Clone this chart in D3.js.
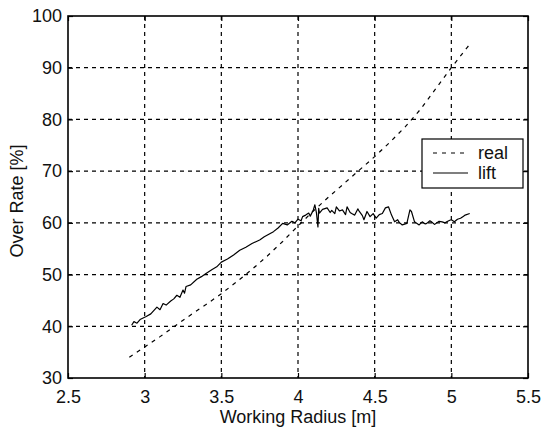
<!DOCTYPE html>
<html>
<head>
<meta charset="utf-8" />
<script src="https://cdn.jsdelivr.net/npm/d3@7"></script>
<style>
  body { margin: 0; background: #fff; }
  text { font-family: Arial, "Liberation Sans", sans-serif; fill: #111; }
  .tick line { stroke: #000; stroke-width: 1.2; }
  .grid line { stroke: #000; stroke-width: 1.2; stroke-dasharray: 4,4; }
</style>
</head>
<body>
<script>
var w = 542, h = 430;
var plotLeft = 68, plotRight = 528, plotTop = 16, plotBottom = 378;

var xTicks = [2.5, 3, 3.5, 4, 4.5, 5, 5.5];
var yTicks = [30, 40, 50, 60, 70, 80, 90, 100];

// "real" series (dashed)
var realX = [2.90, 3.0, 3.1, 3.2, 3.3, 3.4, 3.5, 3.6, 3.7, 3.8, 3.9, 4.0, 4.1, 4.2, 4.3, 4.4, 4.5, 4.6, 4.7, 4.8, 4.9, 5.0, 5.1, 5.12];
var realY = [34.0, 36.0, 38.0, 40.1, 42.2, 44.2, 46.3, 48.6, 51.0, 53.6, 56.4, 59.4, 62.3, 65.0, 67.6, 70.2, 72.8, 75.6, 78.6, 82.0, 86.0, 90.0, 93.8, 94.5];

// "lift" series (solid, noisy)
var liftX = [2.915, 2.93, 2.95, 2.97, 3.01, 3.04, 3.08, 3.10, 3.12, 3.14, 3.17, 3.19, 3.21, 3.23, 3.25, 3.26, 3.27, 3.30, 3.34, 3.37, 3.40, 3.44, 3.47, 3.50,
  3.54, 3.58, 3.62, 3.66, 3.70, 3.75, 3.78, 3.81, 3.84, 3.87, 3.90, 3.93, 3.96, 3.98, 4.00, 4.02, 4.03, 4.05, 4.07, 4.08, 4.10, 4.11, 4.12, 4.13, 4.135, 4.14,
  4.16, 4.19, 4.21, 4.22, 4.24, 4.25, 4.27, 4.29, 4.31, 4.32, 4.34, 4.35, 4.37, 4.39, 4.40, 4.42, 4.43, 4.45, 4.47, 4.49, 4.51, 4.53, 4.55, 4.57, 4.59,
  4.61, 4.63, 4.65, 4.66, 4.68, 4.71, 4.73, 4.74, 4.76, 4.79, 4.81, 4.83, 4.84, 4.86, 4.87, 4.89, 4.90, 4.92, 4.94, 4.96, 4.97, 4.99, 5.00, 5.02, 5.04, 5.06, 5.08, 5.09, 5.12];
var liftY = [40.2, 40.9, 40.6, 41.3, 41.9, 42.4, 43.7, 43.2, 44.4, 44.1, 44.9, 45.3, 46.0, 45.6, 47.0, 46.4, 47.7, 48.0, 49.1, 49.6, 50.2, 51.0, 51.5, 52.4,
  53.0, 53.8, 54.7, 55.3, 56.0, 56.7, 57.3, 57.8, 58.3, 59.0, 59.9, 59.6, 60.3, 60.0, 60.7, 60.4, 61.2, 61.5, 61.9, 61.3, 62.5, 63.5, 62.0, 59.2, 62.8, 61.9,
  62.6, 62.9, 62.0, 62.4, 61.8, 63.1, 62.3, 62.5, 61.6, 63.1, 62.0, 61.8, 61.5, 62.7, 62.2, 61.4, 60.6, 62.2, 61.2, 61.8, 60.9, 61.6, 61.8, 62.9, 63.1,
  61.5, 60.2, 60.6, 60.1, 59.6, 59.9, 62.5, 62.2, 60.2, 59.6, 60.2, 59.8, 59.9, 60.4, 60.2, 59.7, 59.9, 60.3, 60.2, 60.0, 60.2, 60.5, 60.6, 60.2, 60.7, 60.9, 61.3, 61.5, 61.8];

var legendNames = ["real", "lift"];

var x = d3.scaleLinear().domain([2.5, 5.5]).range([plotLeft, plotRight]);
var y = d3.scaleLinear().domain([30, 100]).range([plotBottom, plotTop]);

var svg = d3.select("body").append("svg")
  .attr("width", w)
  .attr("height", h);

// grid
svg.append("g").attr("class", "grid")
  .selectAll("line")
  .data(xTicks.slice(1, -1))
  .enter().append("line")
  .attr("x1", function(d) { return x(d); })
  .attr("x2", function(d) { return x(d); })
  .attr("y1", plotTop)
  .attr("y2", plotBottom);

svg.append("g").attr("class", "grid")
  .selectAll("line")
  .data(yTicks.slice(1, -1))
  .enter().append("line")
  .attr("x1", plotLeft)
  .attr("x2", plotRight)
  .attr("y1", function(d) { return y(d); })
  .attr("y2", function(d) { return y(d); });

// axes (ticks pointing inward)
var fmt = function(d) { return String(d); };
svg.append("g")
  .attr("transform", "translate(0," + plotBottom + ")")
  .call(d3.axisBottom(x).tickValues(xTicks).tickFormat(fmt).tickSizeInner(-5).tickSizeOuter(0).tickPadding(12));
svg.append("g")
  .attr("transform", "translate(" + plotLeft + ",0)")
  .call(d3.axisLeft(y).tickValues(yTicks).tickFormat(fmt).tickSizeInner(-5).tickSizeOuter(0).tickPadding(6));
svg.append("g")
  .attr("transform", "translate(0," + plotTop + ")")
  .call(d3.axisTop(x).tickValues(xTicks).tickFormat("").tickSizeInner(-5).tickSizeOuter(0));
svg.append("g")
  .attr("transform", "translate(" + plotRight + ",0)")
  .call(d3.axisRight(y).tickValues(yTicks).tickFormat("").tickSizeInner(-5).tickSizeOuter(0));

svg.selectAll(".domain").remove();
svg.selectAll(".tick text")
  .attr("font-size", 18)
  .attr("font-family", "Arial, 'Liberation Sans', sans-serif")
  .attr("fill", "#111");

// box
svg.append("rect")
  .attr("x", plotLeft)
  .attr("y", plotTop)
  .attr("width", plotRight - plotLeft)
  .attr("height", plotBottom - plotTop)
  .attr("fill", "none")
  .attr("stroke", "#000")
  .attr("stroke-width", 1.6);

// lines
var line = d3.line()
  .x(function(d) { return x(d[0]); })
  .y(function(d) { return y(d[1]); });

var realData = realX.map(function(d, i) { return [d, realY[i]]; });
var liftData = liftX.map(function(d, i) { return [d, liftY[i]]; });

svg.append("path")
  .datum(realData)
  .attr("d", line)
  .attr("fill", "none")
  .attr("stroke", "#000")
  .attr("stroke-width", 1.2)
  .attr("stroke-dasharray", "4,5");

svg.append("path")
  .datum(liftData)
  .attr("d", line)
  .attr("fill", "none")
  .attr("stroke", "#000")
  .attr("stroke-width", 1.2)
  .attr("stroke-linejoin", "round");

// axis labels
svg.append("text")
  .attr("x", (plotLeft + plotRight) / 2)
  .attr("y", 423)
  .attr("text-anchor", "middle")
  .attr("font-size", 18)
  .text("Working Radius [m]");

svg.append("text")
  .attr("transform", "translate(23," + ((plotTop + plotBottom) / 2 + 4) + ") rotate(-90)")
  .attr("text-anchor", "middle")
  .attr("font-size", 18)
  .text("Over Rate [%]");

// legend
var lg = svg.append("g");
lg.append("rect")
  .attr("x", 422).attr("y", 139)
  .attr("width", 101).attr("height", 49)
  .attr("fill", "#fff")
  .attr("stroke", "#000")
  .attr("stroke-width", 1.2);

lg.selectAll("line.key")
  .data(legendNames)
  .enter().append("line")
  .attr("class", "key")
  .attr("x1", 433).attr("x2", 468)
  .attr("y1", function(d, i) { return 153 + i * 20; })
  .attr("y2", function(d, i) { return 153 + i * 20; })
  .attr("stroke", "#000")
  .attr("stroke-width", 1.2)
  .attr("stroke-dasharray", function(d, i) { return i === 0 ? "4,5" : null; });

lg.selectAll("text.key")
  .data(legendNames)
  .enter().append("text")
  .attr("class", "key")
  .attr("x", 478)
  .attr("y", function(d, i) { return 159 + i * 20; })
  .attr("font-size", 18)
  .text(function(d) { return d; });
</script>
</body>
</html>
